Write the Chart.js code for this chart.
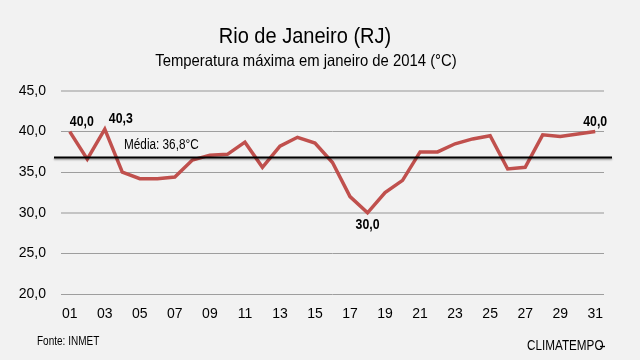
<!DOCTYPE html>
<html>
<head>
<meta charset="utf-8">
<script src="https://cdn.jsdelivr.net/npm/chart.js@4"></script>
<style>
  html, body { margin: 0; padding: 0; background: #f2f2f2; }
  #wrap { width: 640px; height: 360px; position: relative; }
</style>
</head>
<body>
<div id="wrap"><canvas id="chart" width="640" height="360"></canvas></div>
<script>
// dados
const dias = ['01','02','03','04','05','06','07','08','09','10','11','12','13','14','15','16',
              '17','18','19','20','21','22','23','24','25','26','27','28','29','30','31'];
const tempMax = [40.0, 36.6, 40.3, 35.0, 34.2, 34.2, 34.4, 36.5, 37.1, 37.2, 38.7, 35.6, 38.2, 39.3, 38.6, 36.2,
                 32.0, 30.0, 32.5, 34.0, 37.5, 37.5, 38.5, 39.1, 39.5, 35.4, 35.6, 39.6, 39.4, 39.7, 40.0];
const media = 36.8;
const eixoY = { min: 20, max: 45, passo: 5 };
// rótulos destacados: índice do dia e posição (acima / abaixo)
const destaques = [[0, 'acima'], [2, 'acima'], [17, 'abaixo'], [30, 'acima']];

const FONTE = "'Liberation Sans', Arial, sans-serif";
const virgula = v => v.toFixed(1).replace('.', ',');

// texto estreito (a fonte original é condensada)
function texto(ctx, str, x, y, font, align, escala) {
  ctx.save();
  ctx.font = font;
  ctx.textAlign = align;
  ctx.textBaseline = 'middle';
  ctx.translate(x, y);
  ctx.scale(escala, 1);
  ctx.fillText(str, 0, 0);
  ctx.restore();
}

// Plugin para a linha da média, rótulos e textos de cabeçalho/rodapé
const extras = {
  id: 'extras',
  afterDatasetsDraw(chart) {
    const ctx = chart.ctx;
    const area = chart.chartArea;
    const y = chart.scales.y;
    ctx.save();
    ctx.fillStyle = '#000';

    // linha da média
    const yMedia = y.getPixelForValue(media);
    ctx.save();
    ctx.strokeStyle = '#000';
    ctx.lineWidth = 2;
    ctx.shadowColor = 'rgba(0,0,0,0.35)';
    ctx.shadowBlur = 2;
    ctx.shadowOffsetY = 1.5;
    ctx.beginPath();
    ctx.moveTo(area.left - 7, yMedia);
    ctx.lineTo(area.right + 8, yMedia);
    ctx.stroke();
    ctx.restore();

    texto(ctx, 'Média: ' + virgula(media) + '°C', 124, yMedia - 12, '14px ' + FONTE, 'left', 0.84);

    // rótulos dos pontos
    const meta = chart.getDatasetMeta(0);
    destaques.forEach(([i, pos]) => {
      const p = meta.data[i];
      const ty = pos === 'acima' ? p.y - 10 : p.y + 12;
      const tx = i === 0 ? p.x + 12 : (i === 2 ? p.x + 16 : p.x);
      texto(ctx, virgula(tempMax[i]), tx, ty, 'bold 15px ' + FONTE, 'center', 0.82);
    });

    // títulos
    texto(ctx, 'Rio de Janeiro (RJ)', 305, 37, '22px ' + FONTE, 'center', 0.91);
    texto(ctx, 'Temperatura máxima em janeiro de 2014 (°C)', 306, 61, '16.5px ' + FONTE, 'center', 0.9);

    // rodapé
    texto(ctx, 'Fonte: INMET', 37, 342, '12.5px ' + FONTE, 'left', 0.8);
    texto(ctx, 'CLIMATEMPO', 527, 346, '15px ' + FONTE, 'left', 0.78);
    ctx.strokeStyle = '#000';
    ctx.lineWidth = 1.3;
    ctx.beginPath();
    ctx.moveTo(600, 346.5);
    ctx.lineTo(605, 346.5);
    ctx.stroke();
    ctx.restore();
  }
};

new Chart(document.getElementById('chart'), {
  type: 'line',
  data: {
    labels: dias,
    datasets: [{
      data: tempMax,
      borderColor: '#c0504d',
      borderWidth: 3.5,
      pointRadius: 0,
      tension: 0,
      fill: false
    }]
  },
  options: {
    responsive: false,
    animation: false,
    devicePixelRatio: 1,
    layout: { padding: { left: 0, right: 36, top: 91, bottom: 0 } },
    plugins: { legend: { display: false }, tooltip: { enabled: false } },
    scales: {
      x: {
        offset: true,
        grid: { display: false, drawTicks: false },
        border: { display: false },
        afterFit: s => { s.height = 66; },
        ticks: {
          autoSkip: false,
          maxRotation: 0,
          padding: 12,
          color: '#000',
          font: { size: 14, family: FONTE },
          callback: (v, i) => (i % 2 === 0 ? dias[i] : '')
        }
      },
      y: {
        min: eixoY.min,
        max: eixoY.max,
        afterFit: s => { s.width = 61; },
        grid: {
          color: c => (c.tick && (c.tick.value === 45 || c.tick.value === 30) ? '#c4c4c4' : '#9e9e9e'),
          lineWidth: c => (c.tick && (c.tick.value === 45 || c.tick.value === 30) ? 2 : 1),
          drawTicks: false
        },
        border: { display: false },
        ticks: {
          stepSize: eixoY.passo,
          padding: 15,
          color: '#000',
          font: { size: 14, family: FONTE },
          callback: v => virgula(v)
        }
      }
    }
  },
  plugins: [extras]
});
</script>
</body>
</html>
